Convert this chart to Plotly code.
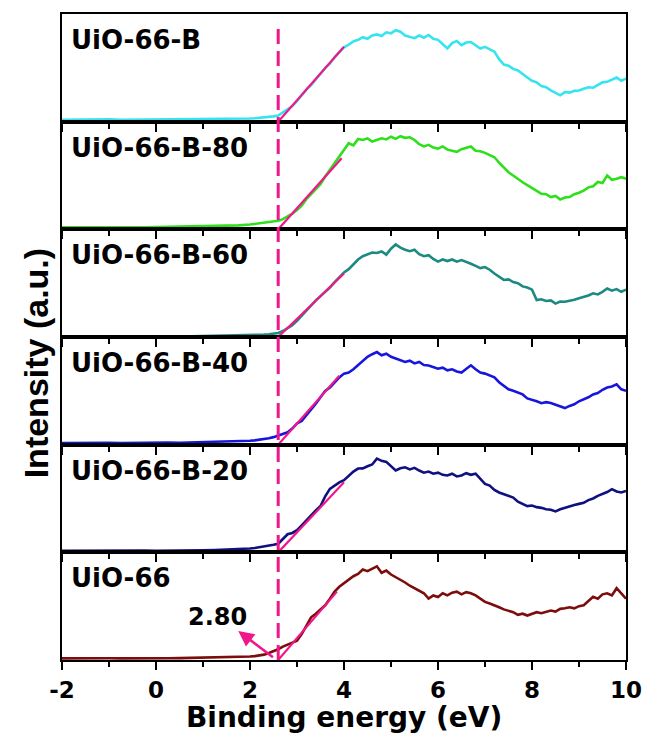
import plotly.graph_objects as go
from plotly.subplots import make_subplots

# ---------------- data ----------------
FLAT_X = [round(-2 + 0.25 * i, 2) for i in range(17)]          # -2 .. 2
EDGE_X = [round(2.1 + 0.1 * i, 1) for i in range(80)]          # 2.1 .. 10
X = FLAT_X + EDGE_X

SAMPLES = ["UiO-66-B", "UiO-66-B-80", "UiO-66-B-60", "UiO-66-B-40", "UiO-66-B-20", "UiO-66"]
COLORS = ["#35E4F0", "#2EE01C", "#1A8A82", "#1616DC", "#10107E", "#7D0C0C"]
TICK_VALS = [-2, 0, 2, 4, 6, 8, 10]
TICK_TEXT = ["-2", "0", "2", "4", "6", "8", "10"]

uio66_b = [1.8, 2.0, 1.7, 1.9, 2.1, 1.8, 1.9, 2.0, 1.8, 2.1, 1.9, 2.0, 2.2, 2.1, 2.4, 2.6, 2.9,
           3.2, 3.5, 3.9, 4.3, 4.9, 5.7, 8.5, 11, 14.5, 19,
           24.5, 30, 34, 39.5, 44, 50, 54, 60, 64.5, 69,
           71.5, 74.5, 76, 78.5, 77, 80, 81, 79.5, 83, 82,
           85, 83.5, 80, 79, 77.5, 80, 78, 80.5, 77, 76,
           72, 68, 73, 75, 71, 73.5, 74, 71, 68, 69.5,
           67, 65, 58, 53, 52, 49, 47.5, 44, 41, 38,
           36.5, 33, 32, 29, 27, 24.5, 27.5, 27, 28.6, 29,
           30.5, 32, 31.5, 34, 36.5, 37, 39, 41, 38, 40]
uio66_b80 = [1.8, 1.9, 2.0, 1.8, 1.9, 2.1, 1.9, 1.8, 2.0, 1.9, 2.1, 2.2, 2.4, 2.7, 3.1, 3.7, 4.5,
             5.0, 5.4, 6.0, 6.6, 7.2, 7.9, 9.5, 12, 14.5, 18,
             22, 28, 32.6, 37, 42, 49, 55, 62, 68, 73,
             80, 78, 84, 83, 84.5, 81.6, 83, 84.5, 83.5, 86,
             84, 86.5, 85, 85.5, 83, 79, 77, 78.5, 76, 75,
             77, 74, 73, 72, 74.5, 76, 77, 73, 72.5, 71,
             69, 67, 62, 57, 53, 50, 46.5, 43.7, 41, 38,
             35.8, 33, 32.6, 30, 31, 27.8, 29.5, 30, 32.6, 34,
             36, 39, 40, 44, 43, 50, 46, 47, 48.4, 47]
uio66_b60 = [0.6, 0.7, 0.5, 0.6, 0.8, 0.6, 0.5, 0.7, 0.6, 0.8, 0.7, 0.6, 0.8, 0.9, 1.0, 1.2, 1.5,
             1.7, 1.9, 2.2, 2.6, 3.1, 3.7, 5.5, 8, 11, 15,
             20, 25, 29, 34, 38, 42, 46, 51, 55.5, 60,
             63, 68, 72, 75, 76.5, 78.5, 78, 79.5, 76.5, 82,
             86, 83, 81, 79.7, 81, 77, 75, 76, 72.5, 70,
             72, 70.5, 72, 70, 71.5, 70, 68, 66, 64, 65,
             62.5, 59, 56, 53, 53.5, 51, 50, 47, 46, 44,
             34.4, 35, 33.5, 34, 31, 33, 32.8, 33.5, 34.5, 36,
             37, 38.5, 40.6, 39.5, 42, 45, 43, 44.5, 42, 44]
uio66_b40 = [1.5, 1.7, 1.6, 1.5, 1.7, 1.6, 1.8, 1.6, 1.7, 1.9, 1.8, 2.0, 2.1, 2.3, 2.6, 3.0, 3.6,
             4.0, 4.5, 5.2, 6.0, 7.0, 8.5, 10, 11.5, 15, 19.7,
             22, 27, 33, 38, 44, 50, 53, 58, 62.5, 66,
             67, 70, 73.7, 77, 81.6, 84, 86, 83, 84.5, 81.6,
             80, 78.5, 76.8, 78, 75.5, 76.8, 74, 73.5, 72, 70.5,
             71.5, 69, 70, 68, 67, 70, 73.7, 70, 67, 66,
             64, 62.5, 58, 55, 51.4, 50, 48, 46.7, 43, 42,
             40.3, 38.5, 39.5, 38.7, 37, 35.5, 34, 36, 37.5, 40.3,
             42, 44, 46.7, 48, 51, 53, 54, 56, 51.4, 50]
uio66_b20 = [1.5, 1.6, 1.7, 1.5, 1.6, 1.8, 1.6, 1.7, 1.5, 1.8, 1.7, 1.9, 2.0, 2.2, 2.5, 2.9, 3.5,
             4.0, 4.6, 5.3, 6.0, 7.0, 8.0, 12, 16.8, 18, 20.6,
             25, 30, 35, 39, 43, 52, 59, 62, 65, 67,
             71.4, 75, 77.8, 78, 80, 81.6, 87, 85, 84, 80,
             76, 78, 79, 77, 78.5, 76, 74, 75, 73, 74,
             72, 71.4, 73, 70.5, 71.4, 73.5, 72, 73, 68, 63.5,
             62, 58, 55.6, 54, 52, 50.8, 47, 45, 42.9, 43.5,
             42, 41.3, 40, 39.5, 38, 40, 41.5, 42.9, 44, 45,
             46, 48.5, 50, 52.4, 54, 56, 58.7, 56.5, 55.6, 57]
uio66 = [1.5, 1.7, 1.6, 1.8, 1.6, 1.5, 1.7, 1.6, 1.8, 1.6, 1.7, 1.9, 1.8, 2.0, 2.3, 2.8, 3.3,
         3.6, 4.0, 5.0, 6.5, 8.0, 10, 12.5, 14.3, 16, 18,
         24, 32, 39.7, 43, 47, 50.8, 57, 63.5, 68, 71.4,
         74, 77.8, 80, 84, 82.5, 85, 87, 81, 83, 79.4,
         77, 74.6, 72, 69, 66.7, 65, 62, 57, 60, 58.5,
         62, 60, 62.5, 63.5, 61, 63, 62, 60, 57, 54,
         52.5, 51, 49, 47, 45.5, 44.4, 42, 43, 41.3, 43,
         44.4, 43.5, 45, 46, 45, 47.5, 48, 49, 48, 50,
         50.8, 55, 58.7, 57, 61, 62, 60, 66.7, 62, 57]
SERIES = [uio66_b, uio66_b80, uio66_b60, uio66_b40, uio66_b20, uio66]

EDGE = 2.6                                   # extrapolated band edge (dashed line)
TAN_END_X = [4.0, 3.95, 4.0, 3.9, 4.0, 3.85]  # linear-fit end points
TAN_END_Y = [69.5, 66, 59, 64, 65, 63.5]
EDGE_LABEL = "2.80"

for s in SERIES:
    assert len(s) == len(X), len(s)

# ---------------- figure ----------------
N = len(SAMPLES)
fig = make_subplots(rows=N, cols=1, shared_xaxes=True, vertical_spacing=0)

PINK = "#F0178A"
FONT = "DejaVu Sans"

for i, (name, ys, col) in enumerate(zip(SAMPLES, SERIES, COLORS)):
    r = i + 1
    fig.add_trace(go.Scatter(x=X, y=ys, mode="lines", line=dict(color=col, width=2.6),
                             name=name, showlegend=False), row=r, col=1)
    fig.add_trace(go.Scatter(x=[EDGE, TAN_END_X[i]], y=[0, TAN_END_Y[i]], mode="lines",
                             line=dict(color=PINK, width=2.2), showlegend=False), row=r, col=1)
    yref = "y" if r == 1 else f"y{r}"
    fig.add_annotation(text=f"<b>{name}</b>", xref=("x" if r == 1 else f"x{r}") + " domain",
                       yref=yref + " domain", x=0.012, y=0.76, xanchor="left", yanchor="middle",
                       showarrow=False, font=dict(family=FONT, size=26, color="black"))

fig.update_xaxes(range=[-2, 10], tickmode="array", tickvals=TICK_VALS, ticktext=TICK_TEXT,
                 ticks="outside", ticklen=8, tickwidth=2,
                 tickcolor="black", showline=True, linewidth=2, linecolor="black", mirror=True,
                 showgrid=False, zeroline=False,
                 minor=dict(tick0=-1, dtick=2, ticks="outside", ticklen=5, tickwidth=2,
                            tickcolor="black"),
                 tickfont=dict(family=FONT, size=23, color="black", weight="bold"))
fig.update_yaxes(range=[0, 100], showticklabels=False, ticks="", showline=True, linewidth=2,
                 linecolor="black", mirror=True, showgrid=False, zeroline=False)

# dashed band-edge line across all panels
fig.add_shape(type="line", xref=f"x{N}", yref="paper", x0=EDGE, x1=EDGE, y0=0, y1=0.983,
              line=dict(color=PINK, width=3, dash="15px,7px"))

# arrow + label in bottom panel
fig.add_annotation(x=1.75, y=27, ax=2.52, ay=1.5, xref=f"x{N}", yref=f"y{N}",
                   axref=f"x{N}", ayref=f"y{N}", text="", showarrow=True,
                   arrowhead=2, arrowsize=1.2, arrowwidth=2.6, arrowcolor=PINK)
fig.add_annotation(x=1.3, y=40, xref=f"x{N}", yref=f"y{N}", text=f"<b>{EDGE_LABEL}</b>",
                   showarrow=False, font=dict(family=FONT, size=24, color="black"))

# axis titles
fig.add_annotation(text="<b>Binding energy (eV)</b>", xref="paper", yref="paper", x=0.5, y=-0.0895,
                   xanchor="center", yanchor="middle", showarrow=False,
                   font=dict(family=FONT, size=28, color="black"))
fig.add_annotation(text="<b>Intensity (a.u.)</b>", xref="paper", yref="paper", x=-0.047, y=0.46,
                   textangle=-90, xanchor="center", yanchor="middle", showarrow=False,
                   font=dict(family="Liberation Sans Narrow, Liberation Sans", size=34, color="black"))

fig.update_layout(width=654, height=733, margin=dict(l=62, r=20, t=14, b=73),
                  plot_bgcolor="white", paper_bgcolor="white",
                  font=dict(family=FONT, color="black"))

fig.write_html("out.html", config={"displayModeBar": False},
               post_script="document.body.style.margin='0px';")
